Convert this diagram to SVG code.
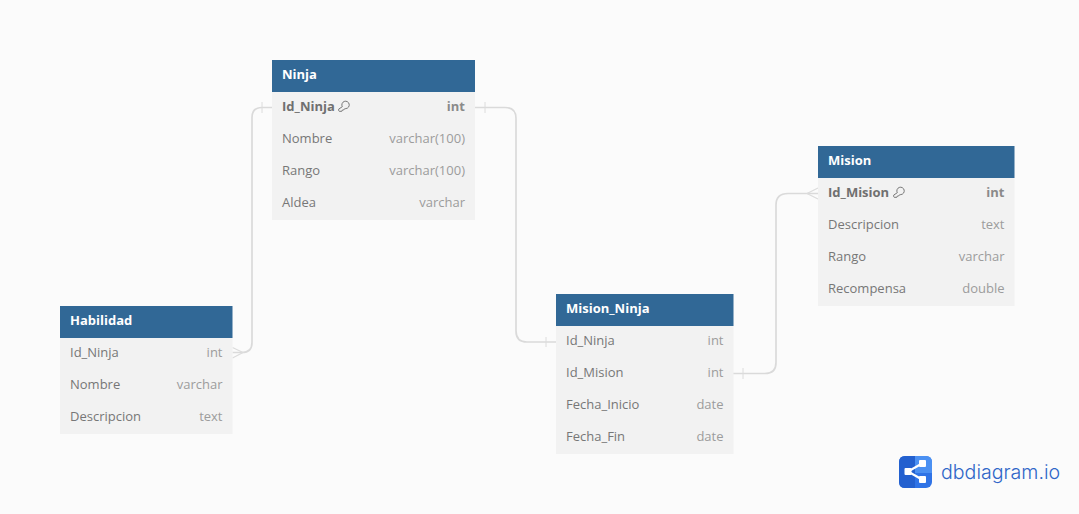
<svg xmlns="http://www.w3.org/2000/svg" width="1079" height="514" viewBox="0 0 1079 514">
<style>
text{font-family:"Open Sans","Noto Sans","DejaVu Sans",sans-serif;font-size:13px}
.body{fill:#f2f2f2}
.head{fill:#316896}
.title{fill:#fff;font-weight:700}
.name{fill:#777}
.type{fill:#9c9c9c;text-anchor:end}
.pk{font-weight:700;fill:#707070}
.pkt{font-weight:700;fill:#8a8a8a;text-anchor:end}
.conn{fill:none;stroke:#dadada;stroke-width:1.7}
.arm{fill:none;stroke:#dcdcdc;stroke-width:1.2}
.tick{fill:none;stroke:#dcdcdc;stroke-width:1}
.key{fill:none;stroke:#777;stroke-width:1}
</style>
<defs>
<g id="key"><path class="key" d="M4.300 6.200A3.700 3.700 0 1 1 7.800 8.100L6.500 8.300L5.600 9.500H4.400L3.800 10.800H1.200L0.700 10.200V8.600Z"/></g>
</defs>
<rect width="1079" height="514" fill="#fbfbfb"/>
<g id="connectors">
<path class="conn" d="M272 107.500H262Q252 107.500 252 117.500V342.500Q252 352.500 242 352.500H232.500"/>
<path class="arm" d="M232.500 347.500L243 352.500L232.500 358"/>
<path class="tick" d="M262 102V113"/>
<path class="conn" d="M475 107.500H505Q516 107.500 516 118.500V331Q516 342 527 342H556"/>
<path class="tick" d="M485 102V113M546 337V347"/>
<path class="conn" d="M733 373.500H765Q776 373.500 776 362.500V205Q776 193.500 788 193.500H818"/>
<path class="arm" d="M818 188L807 193.500L818 199"/>
<path class="tick" d="M743 368V379"/>
</g>
<g id="Ninja">
<rect class="body" x="272" y="92" width="203" height="128"/>
<rect class="head" x="272" y="60" width="203" height="32"/>
<text class="title" x="282" y="79">Ninja</text>
<text class="pk" x="282" y="111">Id_Ninja</text><use href="#key" x="338" y="100.500"/><text class="pkt" x="465" y="111">int</text>
<text class="name" x="282" y="143">Nombre</text><text class="type" x="465" y="143">varchar(100)</text>
<text class="name" x="282" y="175">Rango</text><text class="type" x="465" y="175">varchar(100)</text>
<text class="name" x="282" y="207">Aldea</text><text class="type" x="465" y="207">varchar</text>
</g>
<g id="Habilidad">
<rect class="body" x="60" y="338" width="172.500" height="96"/>
<rect class="head" x="60" y="306" width="172.500" height="32"/>
<text class="title" x="70" y="325">Habilidad</text>
<text class="name" x="70" y="357">Id_Ninja</text><text class="type" x="222.500" y="357">int</text>
<text class="name" x="70" y="389">Nombre</text><text class="type" x="222.500" y="389">varchar</text>
<text class="name" x="70" y="421">Descripcion</text><text class="type" x="222.500" y="421">text</text>
</g>
<g id="Mision_Ninja">
<rect class="body" x="556" y="326" width="177.500" height="128"/>
<rect class="head" x="556" y="294" width="177.500" height="32"/>
<text class="title" x="566" y="313">Mision_Ninja</text>
<text class="name" x="566" y="345">Id_Ninja</text><text class="type" x="723.500" y="345">int</text>
<text class="name" x="566" y="377">Id_Mision</text><text class="type" x="723.500" y="377">int</text>
<text class="name" x="566" y="409">Fecha_Inicio</text><text class="type" x="723.500" y="409">date</text>
<text class="name" x="566" y="441">Fecha_Fin</text><text class="type" x="723.500" y="441">date</text>
</g>
<g id="Mision">
<rect class="body" x="818" y="178" width="196.500" height="128"/>
<rect class="head" x="818" y="146" width="196.500" height="32"/>
<text class="title" x="828" y="165">Mision</text>
<text class="pk" x="828" y="197">Id_Mision</text><use href="#key" x="893" y="186.500"/><text class="pkt" x="1004.500" y="197">int</text>
<text class="name" x="828" y="229">Descripcion</text><text class="type" x="1004.500" y="229">text</text>
<text class="name" x="828" y="261">Rango</text><text class="type" x="1004.500" y="261">varchar</text>
<text class="name" x="828" y="293">Recompensa</text><text class="type" x="1004.500" y="293">double</text>
</g>
<g id="logo">
<rect x="899" y="456" width="33" height="32" rx="6" fill="#2f73e6"/>
<path d="M905 456H915V488H905Q899 488 899 482V462Q899 456 905 456Z" fill="#2360cf"/>
<path d="M915 456H926Q932 456 932 462V473H915Z" fill="#4b90f2"/>
<path d="M922 463.500L908 471.500L922 479.500" fill="none" stroke="#fff" stroke-width="2.200"/>
<rect x="904.500" y="468" width="7" height="7" rx="1" fill="#fff"/><rect x="919" y="460" width="7" height="7" rx="1" fill="#fff"/><rect x="919" y="476" width="7" height="7" rx="1" fill="#fff"/>
<text x="941" y="479" style="font-family:'Inter','Open Sans',sans-serif;font-size:19.600px;font-weight:300" fill="#2f66c8">dbdiagram.io</text>
</g>
</svg>
